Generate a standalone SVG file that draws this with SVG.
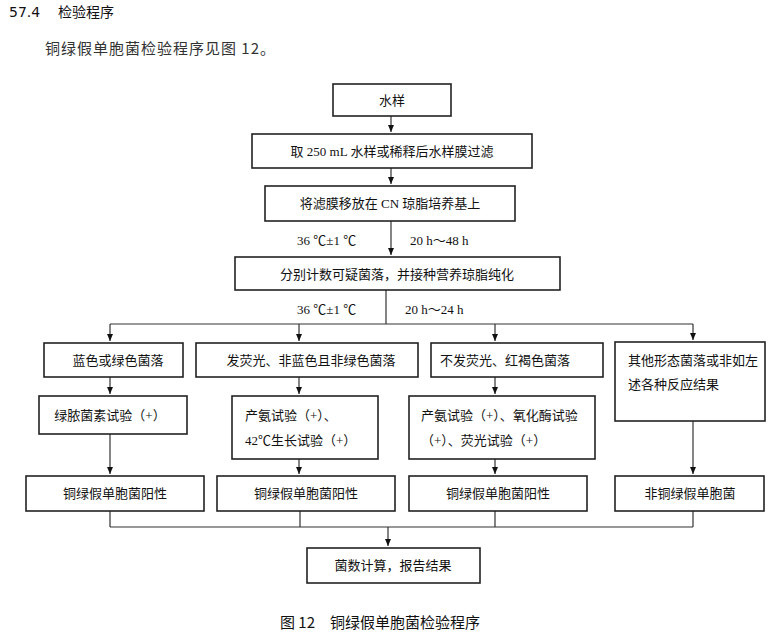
<svg xmlns="http://www.w3.org/2000/svg" width="779" height="635" viewBox="0 0 779 635">
<style>
rect{fill:#fff;stroke:#222;stroke-width:1.6}
text{font-family:"Liberation Serif","Noto Sans CJK SC",serif;font-size:13px;fill:#111}
.c{text-anchor:middle}
.l{fill:none;stroke:#333;stroke-width:1.2}
</style>
<defs><marker id="a" markerWidth="8" markerHeight="10" refX="7" refY="4" orient="auto" markerUnits="userSpaceOnUse"><path d="M0,1L7,4L0,7z" fill="#111"/></marker></defs>
<rect x="0" y="0" width="779" height="635" style="fill:#fff;stroke:none"/>
<text x="9" y="17" style="font-family:'DejaVu Sans','Noto Sans CJK SC',sans-serif;font-size:14px">57.4</text>
<text x="58" y="17" style="font-family:'Noto Sans CJK SC',sans-serif;font-size:14px">检验程序</text>
<text x="45" y="54" style="font-family:'Noto Sans CJK SC',sans-serif;font-size:15px;fill:#333;letter-spacing:1px">铜绿假单胞菌检验程序见图 12。</text>
<g class="l" id="connectors">
<path d="M391,116V132" marker-end="url(#a)"/>
<path d="M391,168V184" marker-end="url(#a)"/>
<path d="M391,221V255" marker-end="url(#a)"/>
<path d="M386,290V324M110,324H693"/>
<path d="M110,324V341" marker-end="url(#a)"/>
<path d="M299,324V341" marker-end="url(#a)"/>
<path d="M495,324V341" marker-end="url(#a)"/>
<path d="M693,324V340" marker-end="url(#a)"/>
<path d="M110,377V394" marker-end="url(#a)"/>
<path d="M299,377V394" marker-end="url(#a)"/>
<path d="M495,377V394" marker-end="url(#a)"/>
<path d="M110,434V474" marker-end="url(#a)"/>
<path d="M299,459V474" marker-end="url(#a)"/>
<path d="M495,459V474" marker-end="url(#a)"/>
<path d="M693,421V474" marker-end="url(#a)"/>
<path d="M110,511V527M300,511V527M495,511V527M693,511V527M110,527H693"/>
<path d="M388,527V546" marker-end="url(#a)"/>
</g>
<g id="n1"><rect x="333" y="84" width="118" height="32"/><text class="c" x="392" y="105">水样</text></g>
<g id="n2"><rect x="252" y="134" width="280" height="34"/><text class="c" x="392" y="156">取 250 mL 水样或稀释后水样膜过滤</text></g>
<g id="n3"><rect x="265" y="186" width="250" height="35"/><text class="c" x="390" y="208">将滤膜移放在 CN 琼脂培养基上</text></g>
<text x="297" y="245">36 ℃±1 ℃</text><text x="410" y="245">20 h～48 h</text>
<g id="n4"><rect x="235" y="257" width="325" height="33"/><text class="c" x="397" y="279">分别计数可疑菌落，并接种营养琼脂纯化</text></g>
<text x="297" y="314">36 ℃±1 ℃</text><text x="405" y="314">20 h～24 h</text>
<g id="r1a"><rect x="44" y="343" width="139" height="34"/><text class="c" x="118" y="365">蓝色或绿色菌落</text></g>
<g id="r1b"><rect x="196" y="343" width="222" height="34"/><text class="c" x="311" y="365">发荧光、非蓝色且非绿色菌落</text></g>
<g id="r1c"><rect x="431" y="343" width="172" height="34"/><text class="c" x="505" y="365">不发荧光、红褐色菌落</text></g>
<g id="r1d"><rect x="615" y="342" width="150" height="79"/><text x="628" y="365">其他形态菌落或非如左</text><text x="628" y="389">述各种反应结果</text></g>
<g id="r2a"><rect x="39" y="396" width="148" height="38"/><text class="c" x="110" y="420">绿脓菌素试验（+）</text></g>
<g id="r2b"><rect x="232" y="396" width="146" height="63"/><text x="245" y="420">产氨试验（+）、</text><text x="245" y="445">42℃生长试验（+）</text></g>
<g id="r2c"><rect x="409" y="396" width="186" height="63"/><text x="421" y="420">产氨试验（+）、氧化酶试验</text><text x="421" y="445">（+）、荧光试验（+）</text></g>
<g id="r3a"><rect x="26" y="476" width="178" height="35"/><text class="c" x="115" y="498">铜绿假单胞菌阳性</text></g>
<g id="r3b"><rect x="217" y="476" width="178" height="35"/><text class="c" x="306" y="498">铜绿假单胞菌阳性</text></g>
<g id="r3c"><rect x="409" y="476" width="178" height="35"/><text class="c" x="498" y="498">铜绿假单胞菌阳性</text></g>
<g id="r3d"><rect x="615" y="476" width="149" height="35"/><text class="c" x="690" y="498">非铜绿假单胞菌</text></g>
<g id="n5"><rect x="307" y="548" width="173" height="35"/><text class="c" x="393" y="570">菌数计算，报告结果</text></g>
<text x="280" y="628" style="font-family:'Noto Sans CJK SC',sans-serif;font-size:15px">图 12　铜绿假单胞菌检验程序</text>
</svg>
